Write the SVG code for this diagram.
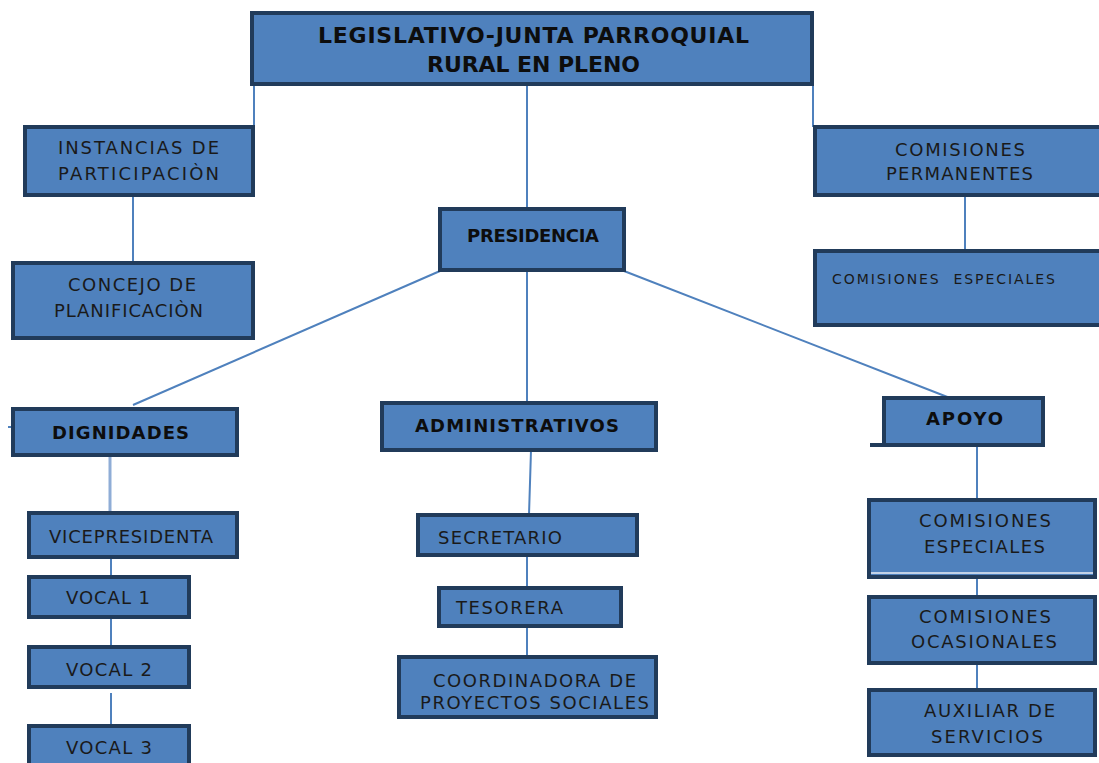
<svg xmlns="http://www.w3.org/2000/svg" width="1099" height="763" viewBox="0 0 1099 763">
<style>
.box{fill:#4F81BD;stroke:#213B5A;stroke-width:4}
.ln{stroke:#4F81BD;stroke-width:2;fill:none}
.t{font-family:"DejaVu Sans",Verdana,sans-serif;font-size:18px;fill:#1a1a1a}
.b{font-family:"DejaVu Sans",Verdana,sans-serif;font-size:18px;font-weight:bold;fill:#0d0d0d}
.big{font-size:22px}
.sm{font-size:14px}
</style>
<rect width="1099" height="763" fill="#ffffff"/>
<g id="connectors">
<line class="ln" x1="254" y1="84" x2="254" y2="127"/>
<line class="ln" x1="527" y1="84" x2="527" y2="208"/>
<line class="ln" x1="813" y1="84" x2="813" y2="127"/>
<line class="ln" x1="133" y1="195" x2="133" y2="263"/>
<line class="ln" x1="965" y1="195" x2="965" y2="251"/>
<line class="ln" x1="440" y1="271" x2="133" y2="405"/>
<line class="ln" x1="527" y1="271" x2="527" y2="403"/>
<line class="ln" x1="624" y1="271" x2="950" y2="398"/>
<line class="ln" x1="8" y1="427" x2="30" y2="427"/>
<line class="ln" x1="110" y1="455" x2="110" y2="513" style="stroke-width:3;stroke:#8FADD6"/>
<line class="ln" x1="111" y1="557" x2="111" y2="577"/>
<line class="ln" x1="111" y1="617" x2="111" y2="647"/>
<line class="ln" x1="111" y1="693" x2="111" y2="726"/>
<line class="ln" x1="531" y1="450" x2="529" y2="515"/>
<line class="ln" x1="527" y1="555" x2="527" y2="588"/>
<line class="ln" x1="527" y1="626" x2="527" y2="657"/>
<line x1="870" y1="445" x2="886" y2="445" stroke="#213B5A" stroke-width="4"/>
<line class="ln" x1="977" y1="445" x2="977" y2="500"/>
<line class="ln" x1="977" y1="577" x2="977" y2="597"/>
<line class="ln" x1="977" y1="663" x2="977" y2="690"/>
</g>
<g id="legislativo">
<rect class="box" x="252" y="13" width="560" height="71"/>
<text class="b big" x="318" y="43" textLength="431">LEGISLATIVO-JUNTA PARROQUIAL</text>
<text class="b big" x="427" y="72" textLength="213">RURAL EN PLENO</text>
</g>
<g id="instancias">
<rect class="box" x="25" y="127" width="228" height="68"/>
<text class="t" x="58" y="154" textLength="161">INSTANCIAS DE</text>
<text class="t" x="58" y="180" textLength="161">PARTICIPACIÒN</text>
</g>
<g id="concejo">
<rect class="box" x="13" y="263" width="240" height="75"/>
<text class="t" x="68" y="291" textLength="128">CONCEJO DE</text>
<text class="t" x="54" y="317" textLength="149">PLANIFICACIÒN</text>
</g>
<g id="comisiones-permanentes">
<rect class="box" x="815" y="127" width="290" height="68"/>
<text class="t" x="895" y="156" textLength="130">COMISIONES</text>
<text class="t" x="886" y="180" textLength="147">PERMANENTES</text>
</g>
<g id="comisiones-especiales-top">
<rect class="box" x="815" y="251" width="290" height="74"/>
<text class="t sm" x="832" y="284" textLength="223" xml:space="preserve">COMISIONES  ESPECIALES</text>
</g>
<g id="presidencia">
<rect class="box" x="440" y="209" width="184" height="61"/>
<text class="b" x="467" y="242" textLength="132">PRESIDENCIA</text>
</g>
<g id="dignidades">
<rect class="box" x="13" y="409" width="224" height="46"/>
<text class="b" x="52" y="439" textLength="137">DIGNIDADES</text>
</g>
<g id="vicepresidenta">
<rect class="box" x="29" y="513" width="208" height="44"/>
<text class="t" x="49" y="543" textLength="164">VICEPRESIDENTA</text>
</g>
<g id="vocal1">
<rect class="box" x="29" y="577" width="160" height="40"/>
<text class="t" x="66" y="604" textLength="84">VOCAL 1</text>
</g>
<g id="vocal2">
<rect class="box" x="29" y="647" width="160" height="40"/>
<text class="t" x="66" y="676" textLength="86">VOCAL 2</text>
</g>
<g id="vocal3">
<rect class="box" x="29" y="726" width="160" height="45"/>
<text class="t" x="66" y="754" textLength="86">VOCAL 3</text>
</g>
<g id="administrativos">
<rect class="box" x="382" y="403" width="274" height="47"/>
<text class="b" x="415" y="432" textLength="204">ADMINISTRATIVOS</text>
</g>
<g id="secretario">
<rect class="box" x="418" y="515" width="219" height="40"/>
<text class="t" x="438" y="544" textLength="124">SECRETARIO</text>
</g>
<g id="tesorera">
<rect class="box" x="439" y="588" width="182" height="38"/>
<text class="t" x="456" y="614" textLength="107">TESORERA</text>
</g>
<g id="coordinadora">
<rect class="box" x="399" y="657" width="257" height="60"/>
<text class="t" x="433" y="687" textLength="203">COORDINADORA DE</text>
<text class="t" x="420" y="709" textLength="229">PROYECTOS SOCIALES</text>
</g>
<g id="apoyo">
<rect class="box" x="884" y="398" width="159" height="47"/>
<text class="b" x="926" y="425" textLength="77">APOYO</text>
</g>
<g id="comisiones-especiales">
<rect class="box" x="869" y="500" width="226" height="77"/>
<line x1="871" y1="573" x2="1093" y2="573" stroke="#e8eef6" stroke-width="1.5"/>
<text class="t" x="919" y="527" textLength="132">COMISIONES</text>
<text class="t" x="924" y="553" textLength="121">ESPECIALES</text>
</g>
<g id="comisiones-ocasionales">
<rect class="box" x="869" y="597" width="226" height="66"/>
<text class="t" x="919" y="623" textLength="132">COMISIONES</text>
<text class="t" x="911" y="648" textLength="146">OCASIONALES</text>
</g>
<g id="auxiliar">
<rect class="box" x="869" y="690" width="226" height="65"/>
<text class="t" x="924" y="717" textLength="131">AUXILIAR DE</text>
<text class="t" x="931" y="743" textLength="112">SERVICIOS</text>
</g>
</svg>
